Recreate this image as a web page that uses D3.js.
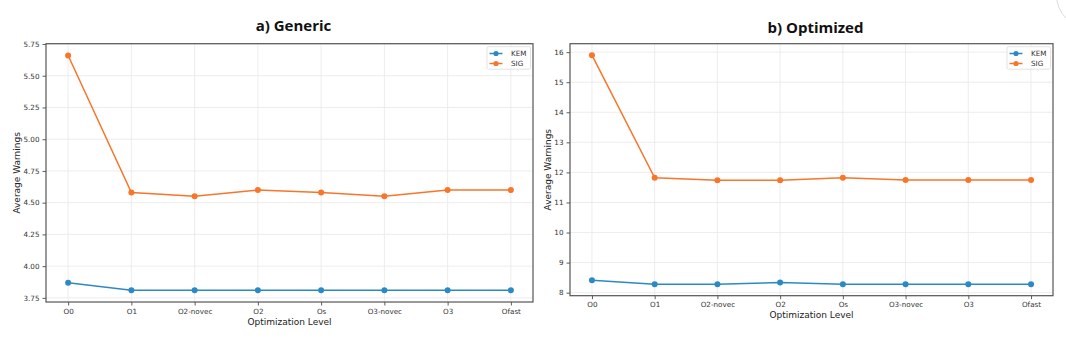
<!DOCTYPE html>
<html><head><meta charset="utf-8">
<script src="https://cdn.jsdelivr.net/npm/d3@7"></script>
<style>
html,body{margin:0;padding:0;background:#fff;}
svg{display:block;}
</style></head>
<body>
<svg id="chart" width="1066" height="346"></svg>
<script>
const categories = ["O0","O1","O2-novec","O2","Os","O3-novec","O3","Ofast"];
const seriesNames = ["KEM","SIG"];
const genericKEM = [3.87,3.81,3.81,3.81,3.81,3.81,3.81,3.81];
const genericSIG = [5.66,4.58,4.55,4.60,4.58,4.55,4.60,4.60];
const optimizedKEM = [8.41,8.28,8.28,8.34,8.28,8.28,8.28,8.28];
const optimizedSIG = [15.90,11.82,11.74,11.74,11.82,11.75,11.75,11.75];
const genericTicks = [3.75,4.00,4.25,4.50,4.75,5.00,5.25,5.50,5.75];
const optimizedTicks = [8,9,10,11,12,13,14,15,16];
const titles = ["a) Generic","b) Optimized"];
const xLabel = "Optimization Level";
const yLabel = "Average Warnings";
const colors = {KEM:"#2b8ac6", SIG:"#f7762a"};

const svg = d3.select("#chart");

const panels = [
  {title:titles[0], series:{KEM:genericKEM, SIG:genericSIG}, ticks:genericTicks, fmt:d3.format(".2f"),
   x0:46, x1:533, y0:43.7, y1:302, titleY:31, ylabX:17},
  {title:titles[1], series:{KEM:optimizedKEM, SIG:optimizedSIG}, ticks:optimizedTicks, fmt:d3.format("d"),
   x0:570, x1:1053, y0:43.7, y1:295.7, titleY:33, ylabX:548}
];

panels.forEach(p => {
  const g = svg.append("g");
  const x = d3.scalePoint().domain(categories).range([p.x0, p.x1]).padding(0.35);
  const all = [...p.series.KEM, ...p.series.SIG];
  const [mn, mx] = d3.extent(all);
  const pad = (mx - mn) * 0.05;
  const y = d3.scaleLinear().domain([mn - pad, mx + pad]).range([p.y1, p.y0]);

  // grid
  g.append("g").selectAll("line.gy").data(p.ticks).join("line")
    .attr("x1", p.x0).attr("x2", p.x1)
    .attr("y1", d => y(d)).attr("y2", d => y(d))
    .attr("stroke", "#e8e8e8").attr("stroke-width", 0.8);
  g.append("g").selectAll("line.gx").data(categories).join("line")
    .attr("x1", d => x(d)).attr("x2", d => x(d))
    .attr("y1", p.y0).attr("y2", p.y1)
    .attr("stroke", "#e8e8e8").attr("stroke-width", 0.8);

  // axes
  const yAxis = d3.axisLeft(y).tickValues(p.ticks).tickFormat(p.fmt).tickSize(3.5).tickPadding(3);
  const xAxis = d3.axisBottom(x).tickSize(3.5).tickPadding(3);
  const ya = g.append("g").attr("transform", `translate(${p.x0},0)`).call(yAxis);
  const xa = g.append("g").attr("transform", `translate(0,${p.y1})`).call(xAxis);
  [ya, xa].forEach(a => {
    a.select(".domain").remove();
    a.selectAll(".tick line").attr("stroke", "#333").attr("stroke-width", 0.8);
    a.selectAll(".tick text").attr("fill", "#333")
      .style("font-family", "DejaVu Sans").style("font-size", "7.2px");
  });

  // frame
  g.append("rect").attr("x", p.x0).attr("y", p.y0)
    .attr("width", p.x1 - p.x0).attr("height", p.y1 - p.y0)
    .attr("fill", "none").attr("stroke", "#555").attr("stroke-width", 1.2);

  // lines
  seriesNames.forEach(s => {
    const vals = p.series[s];
    const line = d3.line().x((d, i) => x(categories[i])).y(d => y(d));
    g.append("path").datum(vals).attr("d", line)
      .attr("fill", "none").attr("stroke", colors[s]).attr("stroke-width", 1.5);
    g.append("g").selectAll("circle").data(vals).join("circle")
      .attr("cx", (d, i) => x(categories[i])).attr("cy", d => y(d)).attr("r", 3)
      .attr("fill", colors[s]);
  });

  // legend
  const lx = p.x1 - 46, ly = p.y0 + 3;
  g.append("rect").attr("x", lx).attr("y", ly).attr("width", 43.5).attr("height", 22.5)
    .attr("rx", 1.5).attr("fill", "#fff").attr("fill-opacity", 0.85)
    .attr("stroke", "#dcdcdc").attr("stroke-width", 0.8);
  seriesNames.forEach((s, i) => {
    const yy = ly + 6.8 + i * 10;
    g.append("line").attr("x1", lx + 2.5).attr("x2", lx + 15.5).attr("y1", yy).attr("y2", yy)
      .attr("stroke", colors[s]).attr("stroke-width", 1.5);
    g.append("circle").attr("cx", lx + 9).attr("cy", yy).attr("r", 2.6).attr("fill", colors[s]);
    g.append("text").attr("x", lx + 24).attr("y", yy).attr("dy", "0.35em")
      .style("font-family", "DejaVu Sans").style("font-size", "7.2px").attr("fill", "#333").text(s);
  });

  // titles and labels
  g.append("text").attr("x", (p.x0 + p.x1) / 2 + 4).attr("y", p.titleY).attr("text-anchor", "middle")
    .style("font-family", "Open Sans").style("font-weight", "700").style("font-size", "15px")
    .attr("fill", "#111").text(p.title);
  g.append("text").attr("x", (p.x0 + p.x1) / 2).attr("y", p.y1 + 22.5).attr("text-anchor", "middle")
    .style("font-family", "DejaVu Sans").style("font-size", "9px").attr("fill", "#222").text(xLabel);
  g.append("text").attr("transform", `translate(${p.ylabX},${(p.y0 + p.y1) / 2}) rotate(-90)`)
    .attr("text-anchor", "middle").attr("dy", "0.35em")
    .style("font-family", "DejaVu Sans").style("font-size", "9px").attr("fill", "#222").text(yLabel);
});

// partially visible rounded UI element at top-right corner
svg.append("circle").attr("cx", 1089.5).attr("cy", -5).attr("r", 33)
  .attr("fill", "#fff").attr("stroke", "#d8dbe0").attr("stroke-width", 1);
</script>
</body></html>
